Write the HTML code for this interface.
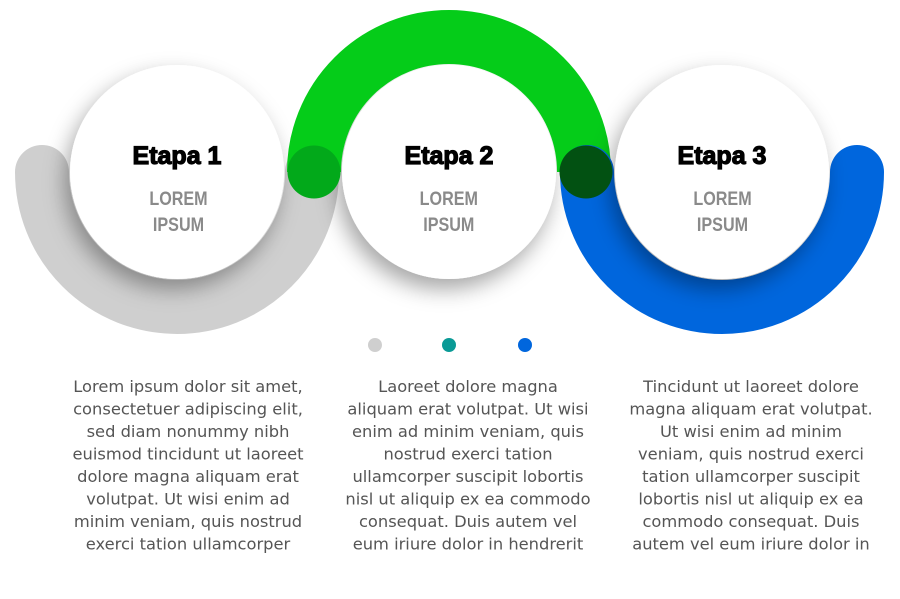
<!DOCTYPE html>
<html><head><meta charset="utf-8"><style>
html,body{margin:0;padding:0;background:#fff;}
svg{display:block;}
</style></head><body>
<svg width="900" height="599" viewBox="0 0 900 599" xmlns="http://www.w3.org/2000/svg">
<defs>
<filter id="sh" x="-40%" y="-40%" width="180%" height="180%">
<feDropShadow dx="-5" dy="10" stdDeviation="11" flood-color="#000" flood-opacity="0.35"/>
</filter>
</defs>
<path d="M42,172 A135,135 0 0 0 312,172" fill="none" stroke="#cfcfcf" stroke-width="54" stroke-linecap="round"/>
<circle cx="177" cy="172" r="107" fill="#fff" filter="url(#sh)"/>
<circle cx="449" cy="172" r="107" fill="#fff" filter="url(#sh)"/>
<path d="M314,172 A135,135 0 0 1 584,172" fill="none" stroke="#05cc19" stroke-width="54"/>
<path d="M587,172 A135,135 0 0 0 857,172" fill="none" stroke="#0066dd" stroke-width="54" stroke-linecap="round"/>
<circle cx="722" cy="172" r="107" fill="#fff" filter="url(#sh)"/>
<circle cx="314" cy="172" r="26.5" fill="#02a91a"/>
<circle cx="586" cy="172" r="26.5" fill="#025112"/>
<g font-family="Liberation Sans, sans-serif" text-anchor="middle">
<g font-size="25" font-weight="bold" fill="#000" stroke="#000" stroke-width="1.2">
<text x="177" y="164">Etapa 1</text>
<text x="449" y="164">Etapa 2</text>
<text x="722" y="164">Etapa 3</text>
</g>
<g font-size="19" font-weight="bold" fill="#8a8a8a" transform="scale(0.85,1)">
<text x="210" y="205">LOREM</text><text x="210" y="231">IPSUM</text>
<text x="528" y="205">LOREM</text><text x="528" y="231">IPSUM</text>
<text x="850" y="205">LOREM</text><text x="850" y="231">IPSUM</text>
</g>
</g>
<circle cx="375" cy="345" r="7" fill="#cfcfcf"/>
<circle cx="449" cy="345" r="7" fill="#0a9a96"/>
<circle cx="525" cy="345" r="7" fill="#0066dd"/>
<g font-family="DejaVu Sans, sans-serif" font-size="16.3" fill="#555" text-anchor="middle">
<text x="188" y="392">Lorem ipsum dolor sit amet,</text>
<text x="188" y="414.5">consectetuer adipiscing elit,</text>
<text x="188" y="437">sed diam nonummy nibh</text>
<text x="188" y="459.5">euismod tincidunt ut laoreet</text>
<text x="188" y="482">dolore magna aliquam erat</text>
<text x="188" y="504.5">volutpat. Ut wisi enim ad</text>
<text x="188" y="527">minim veniam, quis nostrud</text>
<text x="188" y="549.5">exerci tation ullamcorper</text>
<text x="468" y="392">Laoreet dolore magna</text>
<text x="468" y="414.5">aliquam erat volutpat. Ut wisi</text>
<text x="468" y="437">enim ad minim veniam, quis</text>
<text x="468" y="459.5">nostrud exerci tation</text>
<text x="468" y="482">ullamcorper suscipit lobortis</text>
<text x="468" y="504.5">nisl ut aliquip ex ea commodo</text>
<text x="468" y="527">consequat. Duis autem vel</text>
<text x="468" y="549.5">eum iriure dolor in hendrerit</text>
<text x="751" y="392">Tincidunt ut laoreet dolore</text>
<text x="751" y="414.5">magna aliquam erat volutpat.</text>
<text x="751" y="437">Ut wisi enim ad minim</text>
<text x="751" y="459.5">veniam, quis nostrud exerci</text>
<text x="751" y="482">tation ullamcorper suscipit</text>
<text x="751" y="504.5">lobortis nisl ut aliquip ex ea</text>
<text x="751" y="527">commodo consequat. Duis</text>
<text x="751" y="549.5">autem vel eum iriure dolor in</text>
</g>
</svg>
</body></html>
